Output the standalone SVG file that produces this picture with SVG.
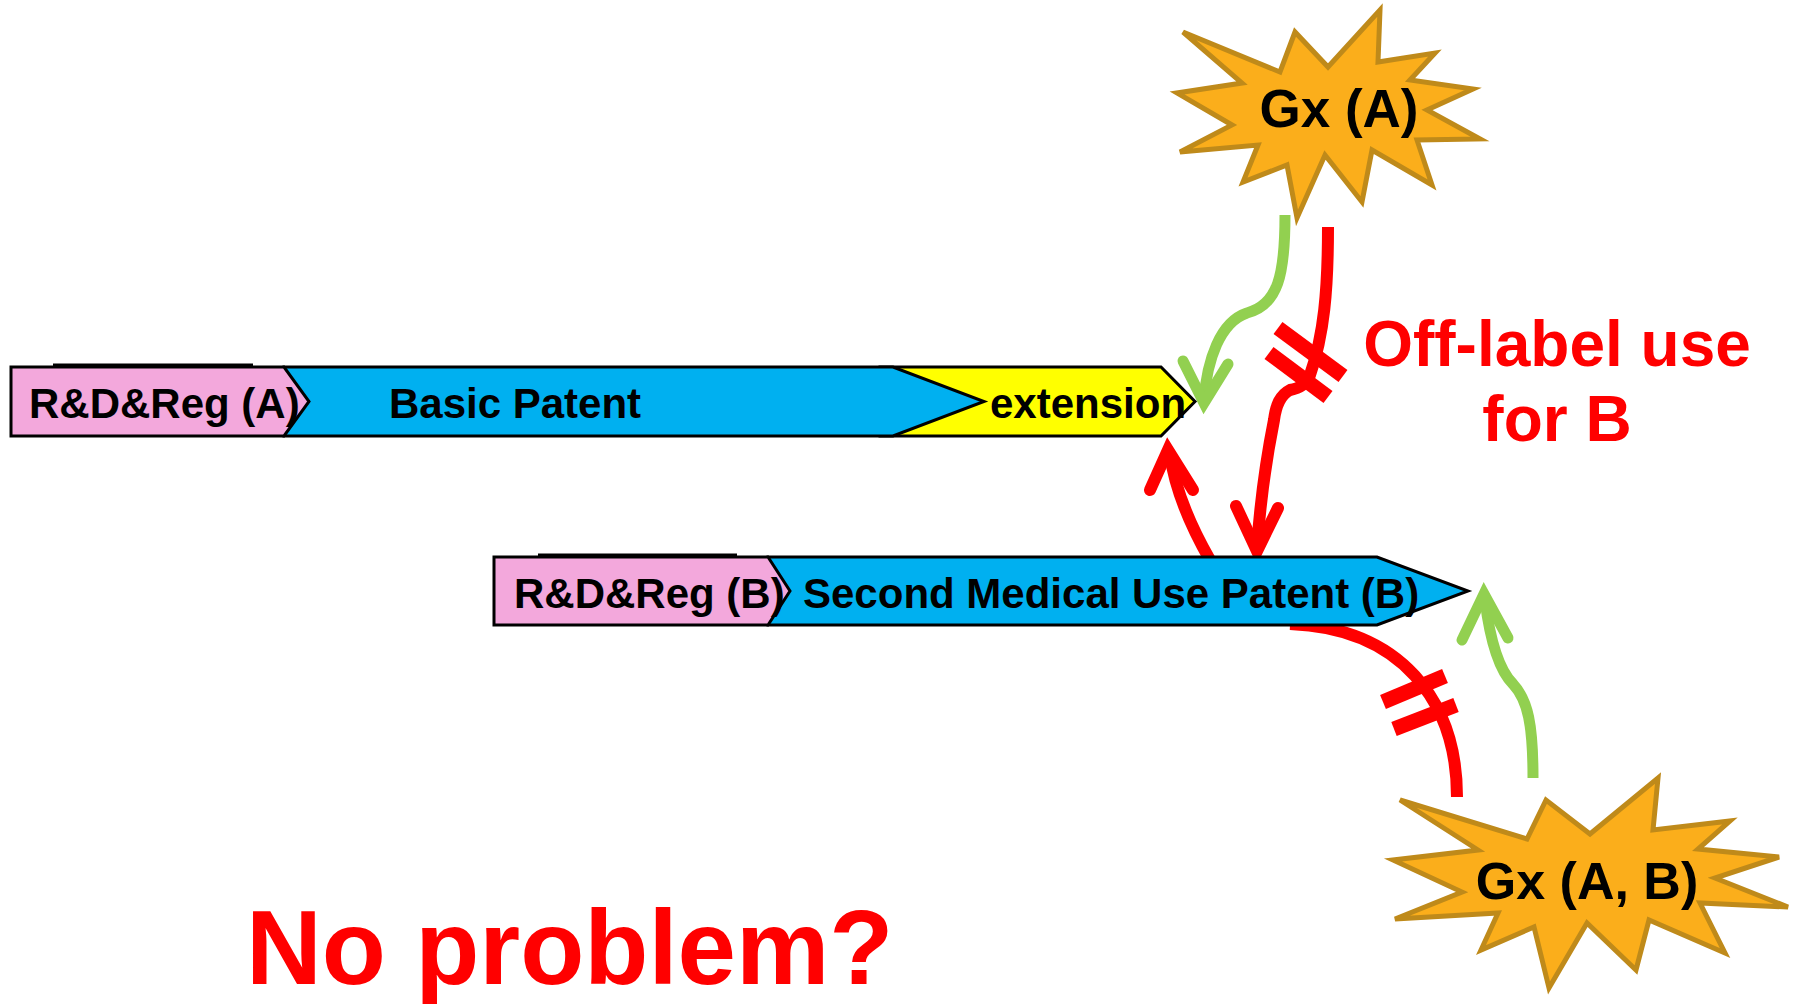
<svg xmlns="http://www.w3.org/2000/svg" width="1794" height="1004" viewBox="0 0 1794 1004">
<style>
.bar{stroke:#000;stroke-width:3;stroke-linejoin:miter}
.pink{fill:#F3A8DC}
.blue{fill:#00B0F0}
.yellow{fill:#FFFF00}
.lbl{font-family:"Liberation Sans",Arial,sans-serif;font-weight:bold;font-size:42px;fill:#000}
.star{fill:#FBAE1B;stroke:#BF8A1A;stroke-width:5;stroke-linejoin:miter}
.gx{font-family:"Liberation Sans",Arial,sans-serif;font-weight:bold;font-size:53px;fill:#000;text-anchor:middle}
.red{fill:none;stroke:#FF0000;stroke-width:12}
.redhead{fill:none;stroke:#FF0000;stroke-width:12;stroke-linecap:round;stroke-linejoin:miter}
.grn{fill:none;stroke:#92D050;stroke-width:11}
.grnhead{fill:none;stroke:#92D050;stroke-width:11;stroke-linecap:round;stroke-linejoin:miter}
.brk{stroke:#FF0000;stroke-width:15;stroke-linecap:butt}
.rt{font-family:"Liberation Sans",Arial,sans-serif;font-weight:bold;fill:#FF0000}
</style>

<g id="connectors">
  <!-- lower red arc from Second Medical Use Patent to Gx(A,B) (behind bar B) -->
  <path class="red" d="M1290,624 C1400,628 1457,700 1457,797"/>
  <line class="brk" x1="1383" y1="702" x2="1445" y2="676"/>
  <line class="brk" x1="1394" y1="729" x2="1456" y2="705"/>
  <!-- green lower arrow Gx(A,B) -> patent B -->
  <path class="grn" d="M1533,778 C1533,725 1528,700 1513,684 C1497,668 1489,632 1485,600"/>
  <polyline class="grnhead" points="1462,640 1484,594 1508,638"/>
  <!-- green top arrow Gx(A) -> extension -->
  <path class="grn" d="M1285,215 C1285,275 1278,305 1247,313 C1220,322 1207,360 1204,400"/>
  <polyline class="grnhead" points="1183,361 1204,403 1228,364"/>
  <!-- red top off-label arrow Gx(A) -> patent B -->
  <path class="red" d="M1328,227 C1328,290 1324,335 1310,375 C1305,385 1300,388 1290,390 C1280,395 1276,405 1274,420 C1266,460 1260,505 1257,548"/>
  <line class="brk" x1="1278" y1="328" x2="1343" y2="376"/>
  <line class="brk" x1="1269" y1="353" x2="1328" y2="397"/>
  <polyline class="redhead" points="1236,506 1257,551 1278,508"/>
  <!-- red up arrow patent B -> extension -->
  <path class="red" d="M1210,560 C1190,525 1175,490 1170,454"/>
  <polyline class="redhead" points="1150,490 1168,450 1193,490"/>
</g>

<g id="barA">
  <line x1="53" y1="365" x2="253" y2="365" stroke="#000" stroke-width="3"/>
  <polygon class="bar yellow" points="880,367 1161,367 1195,401.5 1161,436 880,436"/>
  <polygon class="bar blue" points="284,367 893,367 984,401.5 893,436 284,436"/>
  <polygon class="bar pink" points="11,367 284,367 309,401.5 284,436 11,436"/>
  <text class="lbl" x="29" y="418">R&amp;D&amp;Reg (A)</text>
  <text class="lbl" x="389" y="418">Basic Patent</text>
  <text class="lbl" x="990" y="418">extension</text>
</g>

<g id="barB">
  <line x1="538" y1="555" x2="737" y2="555" stroke="#000" stroke-width="3"/>
  <polygon class="bar blue" points="768,557 1377,557 1468,591 1377,625 768,625"/>
  <polygon class="bar pink" points="494,557 768,557 790,591 768,625 494,625"/>
  <text class="lbl" x="514" y="608">R&amp;D&amp;Reg (B)</text>
  <text class="lbl" x="803" y="608">Second Medical Use Patent (B)</text>
</g>

<g id="gxA">
  <polygon class="star" points="1183,32 1280,72 1295,32 1328,67 1380,10 1378,62 1435,53 1410,80 1473,89 1427,110 1480,139 1417,140 1432,185 1372,150 1362,202 1325,155 1297,218 1287,165 1243,182 1258,145 1180,152 1232,125 1177,93 1242,83"/>
  <text class="gx" x="1339" y="127">Gx (A)</text>
</g>

<g id="gxAB">
  <polygon class="star" points="1400,800 1527,839 1546,800 1590,834 1658,778 1653,830 1730,821 1698,849 1779,857 1715,878 1788,907 1700,903 1725,953 1649,920 1636,970 1587,923 1549,988 1534,927 1481,950 1498,913 1395,919 1462,892 1393,860 1478,850"/>
  <text class="gx" x="1587" y="899" style="font-size:52px">Gx (A, B)</text>
</g>

<g id="offlabel">
  <text class="rt" x="1557" y="366" font-size="64" text-anchor="middle">Off-label use</text>
  <text class="rt" x="1557" y="441" font-size="64" text-anchor="middle">for B</text>
</g>

<g id="noproblem">
  <text class="rt" x="246" y="984" font-size="105">No problem?</text>
</g>
</svg>
